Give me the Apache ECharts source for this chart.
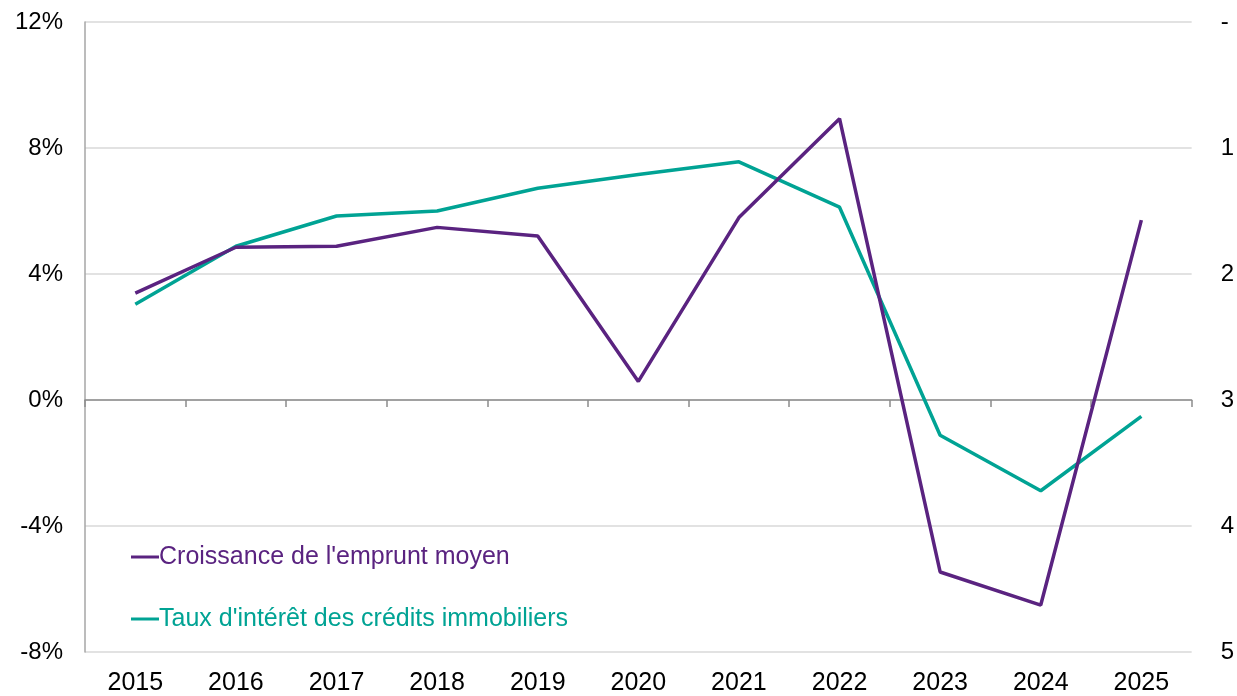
<!DOCTYPE html>
<html>
<head>
<meta charset="utf-8">
<script src="https://cdn.jsdelivr.net/npm/echarts@6/dist/echarts.min.js"></script>
<style>
  html, body { margin: 0; padding: 0; background: #fff; }
  #main { width: 1237px; height: 696px; }
</style>
</head>
<body>
<div id="main"></div>
<script>
// années
const years = ['2015', '2016', '2017', '2018', '2019', '2020', '2021', '2022', '2023', '2024', '2025']

// croissance de l'emprunt moyen, en % (axe de gauche)
const empruntMoyen = [3.39, 4.85, 4.88, 5.48, 5.21, 0.59, 5.79, 8.93, -5.46, -6.51, 5.71]

// taux d'intérêt des crédits immobiliers, en % (axe de droite, inversé)
const tauxCredit = [2.24, 1.78, 1.54, 1.50, 1.32, 1.21, 1.11, 1.47, 3.28, 3.72, 3.13]

const leftTicks = { min: -8, max: 12, interval: 4 }
const rightTicks = { min: 0, max: 5, interval: 1 }

const purple = '#5a2380'
const teal = '#00a394'

let myChart = echarts.init(document.getElementById('main'))

let options = {
    animation: false,
    textStyle: { fontFamily: 'Liberation Sans, Arial, sans-serif' },
    grid: { left: 85, right: 40, top: 22, bottom: 41, containLabel: false },
    legend: {
        orient: 'vertical',
        left: 126,
        top: 538,
        icon: 'rect',
        itemWidth: 28,
        itemHeight: 3,
        itemGap: 34,
        textStyle: { fontSize: 25, padding: [0, 0, 0, -5], lineHeight: 28 },
        data: [
            { name: "Croissance de l'emprunt moyen", textStyle: { color: purple } },
            { name: "Taux d'intérêt des crédits immobiliers", textStyle: { color: teal } }
        ]
    },
    xAxis: [{
        type: 'category',
        data: years,
        boundaryGap: true,
        position: 'bottom',
        axisLine: { show: false, onZero: false },
        axisTick: { show: false },
        axisLabel: { color: '#000', fontSize: 25, margin: 19 }
    }, {
        // ligne du zéro avec graduations entre les années
        type: 'category',
        data: years,
        boundaryGap: true,
        position: 'bottom',
        axisLine: { show: true, onZero: true, onZeroAxisIndex: 0, lineStyle: { color: '#8c8c8c', width: 1.5 } },
        axisTick: { show: true, length: 7, lineStyle: { color: '#8c8c8c', width: 1.5 } },
        axisLabel: { show: false }
    }],
    yAxis: [{
        type: 'value',
        min: leftTicks.min,
        max: leftTicks.max,
        interval: leftTicks.interval,
        axisLine: { show: true, lineStyle: { color: '#a6a6a6', width: 1.5 } },
        axisTick: { show: false },
        axisLabel: { color: '#000', fontSize: 24, margin: 22, formatter: '{value}%' },
        splitLine: {
            show: true,
            lineStyle: { color: '#d9d9d9', width: 1.5 }
        }
    }, {
        type: 'value',
        min: rightTicks.min,
        max: rightTicks.max,
        interval: rightTicks.interval,
        inverse: true,
        axisLine: { show: false },
        axisTick: { show: false },
        splitLine: { show: false },
        axisLabel: {
            color: '#000', fontSize: 24, margin: 29,
            formatter: function (v) { return v === 0 ? '-' : String(v) }
        }
    }],
    series: [{
        name: "Croissance de l'emprunt moyen",
        type: 'line',
        xAxisIndex: 0,
        yAxisIndex: 0,
        data: empruntMoyen,
        symbol: 'none',
        lineStyle: { color: purple, width: 3.5 },
        itemStyle: { color: purple },
        z: 3
    }, {
        name: "Taux d'intérêt des crédits immobiliers",
        type: 'line',
        xAxisIndex: 0,
        yAxisIndex: 1,
        data: tauxCredit,
        symbol: 'none',
        lineStyle: { color: teal, width: 3.5 },
        itemStyle: { color: teal },
        z: 2
    }]
}

myChart.setOption(options)
</script>
</body>
</html>
